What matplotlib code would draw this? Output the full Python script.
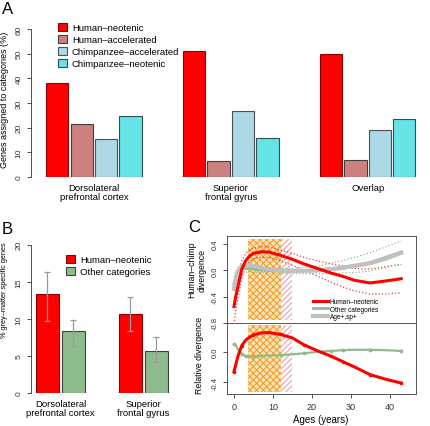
import numpy as np
import matplotlib
matplotlib.use('Agg')
from matplotlib import pyplot as plt
from matplotlib import lines as mlines

plt.rcParams['font.family'] = ['Liberation Sans', 'DejaVu Sans']
plt.rcParams['hatch.linewidth'] = 0.8

# Panel A data
regions_a = ['Dorsolateral\nprefrontal cortex', 'Superior\nfrontal gyrus', 'Overlap']
cats_a = ['Human\u2013neotenic', 'Human\u2013accelerated',
          'Chimpanzee\u2013accelerated', 'Chimpanzee\u2013neotenic']
human_neotenic = [38.0, 51.0, 50.0]
human_accel = [21.5, 6.3, 7.0]
chimp_accel = [15.3, 26.7, 19.0]
chimp_neotenic = [24.7, 15.8, 23.7]

# Panel B data
regions_b = ['Dorsolateral\nprefrontal cortex', 'Superior\nfrontal gyrus']
cats_b = ['Human\u2013neotenic', 'Other categories']
grey_neotenic = [13.4, 10.7]
grey_neotenic_lo = [9.7, 8.4]
grey_neotenic_hi = [16.3, 13.0]
grey_other = [8.3, 5.7]
grey_other_lo = [6.3, 4.2]
grey_other_hi = [9.9, 7.6]

# Panel C data
ages = [0, 0.5, 1, 2, 3, 4, 5, 7, 9, 12, 15, 18, 22, 25, 28, 31, 35, 39, 43]
div_red = [-0.55, -0.38, -0.25, 0.02, 0.15, 0.22, 0.26, 0.285, 0.28, 0.23, 0.17,
           0.10, 0.02, -0.04, -0.09, -0.15, -0.19, -0.16, -0.125]
div_red_hi = [-0.30, -0.18, -0.07, 0.15, 0.26, 0.31, 0.34, 0.365, 0.36, 0.31, 0.26,
              0.20, 0.14, 0.10, 0.07, 0.03, 0.02, 0.06, 0.09]
div_red_lo = [-0.82, -0.58, -0.43, -0.11, 0.04, 0.13, 0.18, 0.205, 0.20, 0.15, 0.08,
              0.0, -0.10, -0.18, -0.25, -0.31, -0.36, -0.36, -0.34]
div_green = [-0.20, -0.10, -0.03, 0.02, 0.03, 0.03, 0.02, 0.01, 0.0, -0.01, -0.01,
             0.0, 0.01, 0.03, 0.05, 0.08, 0.12, 0.20, 0.28]
div_green_hi = [-0.10, 0.0, 0.06, 0.09, 0.09, 0.08, 0.07, 0.05, 0.04, 0.03, 0.03,
                0.05, 0.07, 0.11, 0.15, 0.20, 0.27, 0.36, 0.45]
div_green_lo = [-0.30, -0.20, -0.12, -0.05, -0.03, -0.02, -0.03, -0.03, -0.04, -0.05, -0.05,
                -0.05, -0.05, -0.05, -0.04, -0.03, -0.01, 0.04, 0.10]
div_grey = [-0.28, -0.12, -0.02, 0.06, 0.08, 0.08, 0.07, 0.04, 0.02, 0.0, -0.01,
            -0.005, 0.0, 0.02, 0.04, 0.07, 0.11, 0.18, 0.27]
rel_red = [-0.26, -0.16, -0.06, 0.08, 0.15, 0.19, 0.22, 0.245, 0.25, 0.225, 0.18,
           0.09, 0.0, -0.06, -0.13, -0.20, -0.30, -0.36, -0.41]
rel_green = [0.10, 0.08, 0.03, -0.03, -0.06, -0.065, -0.06, -0.055, -0.05, -0.045, -0.035,
             -0.02, 0.0, 0.01, 0.02, 0.025, 0.025, 0.02, 0.01]
window_checker = (3.7, 12.0)
window_hatch = (12.0, 15.0)

W, H = 431, 427

def px_axes(fig, x0, y0, x1, y1):
    return fig.add_axes([x0 / W, 1 - y1 / H, (x1 - x0) / W, (y1 - y0) / H])

def r_style_y(ax, ticks, fmt, size=6):
    ax.set_yticks(ticks)
    ax.set_yticklabels([fmt % t for t in ticks], rotation=90, va='center')
    ax.tick_params(axis='y', length=3, width=0.6, pad=3, labelsize=size,
                   colors='#333333', labelcolor='#333333')

fig = plt.figure(figsize=(W / 100, H / 100), dpi=100)

# ---------------- Panel A ----------------
axa = px_axes(fig, 31, 30, 431, 178)
colors_a = ['#ff0000', '#cd8080', '#add8e6', '#66e3e6']
edges_a = ['#8b0000', '#404040', '#505050', '#305050']
series_a = [human_neotenic, human_accel, chimp_accel, chimp_neotenic]
for k, vals in enumerate(series_a):
    xs = [g * 6.17 + k * 1.1 for g in range(len(vals))]
    axa.bar(xs, vals, width=1.0, color=colors_a[k], edgecolor=edges_a[k],
            linewidth=0.8, label=cats_a[k])
axa.set_xlim(-1.18, 16.84)
axa.set_ylim(0, 60)
for s in ['top', 'right', 'bottom']:
    axa.spines[s].set_visible(False)
axa.spines['left'].set_linewidth(0.6)
axa.spines['left'].set_color('#333333')
axa.set_xticks([g * 6.17 + 1.65 for g in range(3)])
axa.set_xticklabels(regions_a, fontsize=6.8, linespacing=1.05)
axa.tick_params(axis='x', length=0, pad=4)
r_style_y(axa, [0, 10, 20, 30, 40, 50, 60], '%d')
axa.legend(loc='upper left', bbox_to_anchor=(53 / W, 1 - 19 / H),
           bbox_transform=fig.transFigure, frameon=False, fontsize=6.8,
           handlelength=1.0, handleheight=0.9, handletextpad=0.5,
           labelspacing=0.3, borderpad=0)
fig.text(5 / W, 1 - 100 / H, 'Genes assigned to categories (%)', rotation=90,
         ha='center', va='center', fontsize=6.5)
fig.text(2 / W, 1 - 10 / H, 'A', fontsize=12, ha='left', va='center')

# ---------------- Panel B ----------------
axb = px_axes(fig, 31, 245.7, 190, 394)
colors_b = ['#ff0000', '#8fbc8f']
edges_b = ['#8b0000', '#404040']
series_b = [(grey_neotenic, grey_neotenic_lo, grey_neotenic_hi),
            (grey_other, grey_other_lo, grey_other_hi)]
for k, (vals, lo, hi) in enumerate(series_b):
    xs = [g * 3.6 + k * 1.13 for g in range(len(vals))]
    axb.bar(xs, vals, width=1.0, color=colors_b[k], edgecolor=edges_b[k],
            linewidth=0.8, label=cats_b[k])
    err = [np.array(vals) - np.array(lo), np.array(hi) - np.array(vals)]
    axb.errorbar(xs, vals, yerr=err, fmt='none', ecolor='#9a9a9a',
                 elinewidth=0.9, capsize=2.5, capthick=0.9)
axb.set_xlim(-0.717, 6.2)
axb.set_ylim(0, 20)
for s in ['top', 'right', 'bottom']:
    axb.spines[s].set_visible(False)
axb.spines['left'].set_linewidth(0.6)
axb.spines['left'].set_color('#333333')
axb.set_xticks([g * 3.6 + 0.565 for g in range(2)])
axb.set_xticklabels(regions_b, fontsize=6.8, linespacing=1.05)
axb.tick_params(axis='x', length=0, pad=4)
r_style_y(axb, [0, 5, 10, 15, 20], '%d')
axb.legend(loc='upper left', bbox_to_anchor=(61 / W, 1 - 251 / H),
           bbox_transform=fig.transFigure, frameon=False, fontsize=6.8,
           handlelength=1.0, handleheight=0.9, handletextpad=0.5,
           labelspacing=0.35, borderpad=0)
fig.text(5 / W, 1 - 290 / H, '% grey\u2013matter specific genes', rotation=90,
         ha='center', va='center', fontsize=5.3)
fig.text(2 / W, 1 - 230 / H, 'B', fontsize=12, ha='left', va='center')

# ---------------- Panel C ----------------
axc1 = px_axes(fig, 227, 237, 416, 324)
axc2 = px_axes(fig, 227, 324, 416, 395)
for ax in (axc1, axc2):
    ax.axvspan(*window_checker, ymin=0.03, ymax=0.97, facecolor='#fde3b8',
               edgecolor='#f0a030', hatch='xxxxx', linewidth=0)
    ax.axvspan(*window_hatch, ymin=0.03, ymax=0.97, facecolor='none',
               edgecolor='#e8a0a8', hatch='//////', linewidth=0)
    ax.set_xlim(-1.8, 46.8)
    for s in ax.spines.values():
        s.set_linewidth(0.7)
        s.set_color('#555555')

axc1.plot(ages, div_red_hi, ':', color='#e04040', lw=0.9)
axc1.plot(ages, div_red_lo, ':', color='#e04040', lw=0.9)
axc1.plot(ages, div_green_hi, ':', color='#8fbc8f', lw=0.9)
axc1.plot(ages, div_green_lo, ':', color='#8fbc8f', lw=0.9)
axc1.plot(ages, div_green, '-', color='#8fbc8f', lw=2.0, label='Other categories')
axc1.plot(ages, div_grey, '-', color='#c0c0c0', lw=3.0, label='Age+,sp+')
axc1.plot(ages, div_red, '-', color='#ff0000', lw=2.2, label='Human\u2013neotenic')
axc1.set_ylim(-0.8, 0.525)
axc1.set_xticks([])
r_style_y(axc1, [-0.8, -0.4, 0.0, 0.4], '%.1f', size=5.5)
hnd = [mlines.Line2D([], [], color='#ff0000', lw=2.2),
       mlines.Line2D([], [], color='#8fbc8f', lw=2.0),
       mlines.Line2D([], [], color='#c0c0c0', lw=3.0)]
axc1.legend(hnd, ['Human\u2013neotenic', 'Other categories', 'Age+,sp+'],
            loc='upper left', bbox_to_anchor=(310 / W, 1 - 296 / H),
            bbox_transform=fig.transFigure, frameon=False, fontsize=4.7,
            handlelength=2.2, handleheight=0.6, handletextpad=0.3,
            labelspacing=0.05, borderpad=0)

axc2.plot(ages, rel_green, '-', color='#8fbc8f', lw=1.6, marker='o', ms=1.8,
          markevery=[0, 3, 4, 6, 9, 11, 13, 14, 16, 18])
axc2.plot(ages, rel_red, '-', color='#ff0000', lw=2.2, marker='o', ms=1.5,
          markevery=[0, 3, 6, 9, 11, 13, 14, 16, 18])
axc2.set_ylim(-0.553, 0.375)
r_style_y(axc2, [-0.4, 0.0], '%.1f', size=5.5)
axc2.set_xticks([0, 10, 20, 30, 40])
axc2.tick_params(axis='x', length=3, width=0.6, pad=2.5, labelsize=6.5,
                 colors='#333333', labelcolor='#333333')
fig.text(321 / W, 1 - 420 / H, 'Ages (years)', ha='center', va='center', fontsize=7)

fig.text(197 / W, 1 - 270 / H, 'Human\u2013chimp\ndivergence', rotation=90,
         ha='center', va='center', fontsize=6.3, linespacing=1.1)
fig.text(200 / W, 1 - 355 / H, 'Relative divergence', rotation=90,
         ha='center', va='center', fontsize=6.3)
fig.text(188 / W, 1 - 228 / H, 'C', fontsize=12, ha='left', va='center')

fig.savefig('out.png', dpi=100)
